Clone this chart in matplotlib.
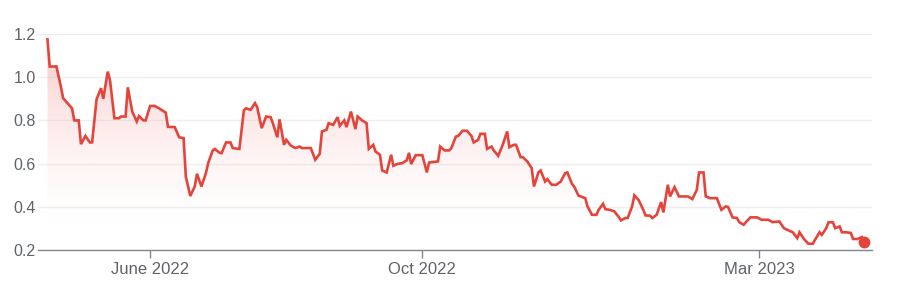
import matplotlib
matplotlib.use("Agg")
import matplotlib.pyplot as plt
import matplotlib.dates as mdates
import numpy as np
import pandas as pd
from matplotlib.colors import LinearSegmentedColormap

dates = [
    "2022-04-16", "2022-04-17", "2022-04-20", "2022-04-22", "2022-04-23", "2022-04-27",
    "2022-04-28", "2022-04-30", "2022-05-01", "2022-05-03", "2022-05-05", "2022-05-06",
    "2022-05-08", "2022-05-10", "2022-05-11", "2022-05-13", "2022-05-14", "2022-05-16",
    "2022-05-18", "2022-05-19", "2022-05-21", "2022-05-22", "2022-05-24", "2022-05-26",
    "2022-05-27", "2022-05-29", "2022-05-30", "2022-06-01", "2022-06-03", "2022-06-05",
    "2022-06-08", "2022-06-09", "2022-06-12", "2022-06-14", "2022-06-16", "2022-06-17",
    "2022-06-19", "2022-06-21", "2022-06-22", "2022-06-24", "2022-06-26", "2022-06-27",
    "2022-06-29", "2022-06-30", "2022-07-02", "2022-07-03", "2022-07-05", "2022-07-07",
    "2022-07-08", "2022-07-11", "2022-07-13", "2022-07-14", "2022-07-16", "2022-07-18",
    "2022-07-19", "2022-07-21", "2022-07-23", "2022-07-25", "2022-07-26", "2022-07-28",
    "2022-07-29", "2022-07-31", "2022-08-01", "2022-08-03", "2022-08-05", "2022-08-07",
    "2022-08-08", "2022-08-12", "2022-08-14", "2022-08-16", "2022-08-17", "2022-08-19",
    "2022-08-20", "2022-08-22", "2022-08-24", "2022-08-25", "2022-08-27", "2022-08-28",
    "2022-08-30", "2022-09-01", "2022-09-02", "2022-09-04", "2022-09-06", "2022-09-07",
    "2022-09-09", "2022-09-10", "2022-09-12", "2022-09-13", "2022-09-15", "2022-09-17",
    "2022-09-18", "2022-09-20", "2022-09-22", "2022-09-24", "2022-09-25", "2022-09-26",
    "2022-09-28", "2022-10-01", "2022-10-03", "2022-10-04", "2022-10-08", "2022-10-09",
    "2022-10-11", "2022-10-13", "2022-10-14", "2022-10-16", "2022-10-17", "2022-10-19",
    "2022-10-21", "2022-10-23", "2022-10-24", "2022-10-26", "2022-10-27", "2022-10-29",
    "2022-10-30", "2022-11-01", "2022-11-02", "2022-11-04", "2022-11-06", "2022-11-08",
    "2022-11-09", "2022-11-11", "2022-11-12", "2022-11-14", "2022-11-15", "2022-11-17",
    "2022-11-19", "2022-11-20", "2022-11-22", "2022-11-23", "2022-11-25", "2022-11-26",
    "2022-11-28", "2022-11-30", "2022-12-02", "2022-12-04", "2022-12-05", "2022-12-07",
    "2022-12-08", "2022-12-10", "2022-12-11", "2022-12-13", "2022-12-14", "2022-12-16",
    "2022-12-18", "2022-12-19", "2022-12-21", "2022-12-22", "2022-12-24", "2022-12-26",
    "2022-12-28", "2022-12-29", "2022-12-31", "2023-01-01", "2023-01-03", "2023-01-04",
    "2023-01-06", "2023-01-08", "2023-01-09", "2023-01-11", "2023-01-12", "2023-01-14",
    "2023-01-16", "2023-01-17", "2023-01-19", "2023-01-20", "2023-01-22", "2023-01-24",
    "2023-01-28", "2023-01-30", "2023-02-01", "2023-02-02", "2023-02-04", "2023-02-05",
    "2023-02-07", "2023-02-10", "2023-02-12", "2023-02-14", "2023-02-15", "2023-02-17",
    "2023-02-19", "2023-02-20", "2023-02-22", "2023-02-23", "2023-02-25", "2023-02-28",
    "2023-03-02", "2023-03-05", "2023-03-07", "2023-03-10", "2023-03-12", "2023-03-13",
    "2023-03-16", "2023-03-18", "2023-03-19", "2023-03-21", "2023-03-23", "2023-03-25",
    "2023-03-26", "2023-03-28", "2023-03-29", "2023-03-31", "2023-04-01", "2023-04-03",
    "2023-04-04", "2023-04-06", "2023-04-07", "2023-04-09", "2023-04-11", "2023-04-12",
    "2023-04-14", "2023-04-16", "2023-04-17",
]

prices = [
    1.175, 1.049, 1.05, 0.957, 0.903, 0.856,
    0.80, 0.80, 0.69, 0.728, 0.698, 0.698,
    0.898, 0.949, 0.90, 1.026, 0.987, 0.81,
    0.81, 0.818, 0.818, 0.953, 0.84, 0.795,
    0.82, 0.80, 0.80, 0.867, 0.867, 0.856,
    0.836, 0.77, 0.769, 0.722, 0.718, 0.54,
    0.45, 0.494, 0.553, 0.494, 0.556, 0.602,
    0.66, 0.668, 0.651, 0.648, 0.698, 0.698,
    0.672, 0.668, 0.846, 0.856, 0.849, 0.88,
    0.861, 0.764, 0.818, 0.815, 0.787, 0.722,
    0.805, 0.687, 0.71, 0.684, 0.672, 0.679,
    0.672, 0.672, 0.618, 0.645, 0.749, 0.756,
    0.787, 0.779, 0.815, 0.775, 0.80, 0.769,
    0.841, 0.76, 0.818, 0.80, 0.787, 0.668,
    0.687, 0.656, 0.641, 0.568, 0.559, 0.641,
    0.59, 0.599, 0.602, 0.615, 0.65, 0.598,
    0.639, 0.639, 0.559, 0.605, 0.61, 0.679,
    0.661, 0.661, 0.672, 0.725, 0.728, 0.752,
    0.752, 0.728, 0.698, 0.71, 0.738, 0.738,
    0.668, 0.679, 0.661, 0.636, 0.687, 0.749,
    0.676, 0.687, 0.687, 0.63, 0.63, 0.61,
    0.579, 0.494, 0.559, 0.568, 0.517, 0.528,
    0.502, 0.502, 0.517, 0.556, 0.559, 0.507,
    0.494, 0.451, 0.448, 0.44, 0.402, 0.363,
    0.363, 0.386, 0.414, 0.389, 0.386, 0.379,
    0.353, 0.337, 0.348, 0.348, 0.402, 0.453,
    0.43, 0.386, 0.36, 0.359, 0.348, 0.363,
    0.422, 0.374, 0.502, 0.448, 0.491, 0.448,
    0.448, 0.436, 0.479, 0.559, 0.559, 0.448,
    0.44, 0.44, 0.386, 0.402, 0.399, 0.351,
    0.348, 0.329, 0.317, 0.329, 0.351, 0.351,
    0.34, 0.34, 0.329, 0.332, 0.301, 0.296,
    0.282, 0.255, 0.282, 0.251, 0.229, 0.229,
    0.248, 0.282, 0.27, 0.301, 0.328, 0.328,
    0.301, 0.309, 0.282, 0.282, 0.279, 0.251,
    0.251, 0.26, 0.237,
]

y_ticks = [0.2, 0.4, 0.6, 0.8, 1.0, 1.2]
x_tick_dates = ["2022-06-01", "2022-10-01", "2023-03-01"]
x_tick_labels = ["June 2022", "Oct 2022", "Mar 2023"]

plt.rcParams['font.family'] = ['Liberation Sans', 'DejaVu Sans']

RED = "#e5443a"
GRAY = "#5f6368"

x = mdates.date2num(pd.to_datetime(dates))
y = np.array(prices)

fig = plt.figure(figsize=(9.04, 3.0), dpi=100)
ax = fig.add_axes([38 / 904, 1 - 250 / 300, (872 - 38) / 904, (250 - 34) / 300])

ax.set_xlim(mdates.date2num(pd.Timestamp("2022-04-11 18:00")),
            mdates.date2num(pd.Timestamp("2023-04-20 12:00")))
ax.set_ylim(0.2, 1.2)

# gradient fill under the line
poly = ax.fill_between(x, y, 0.2, color="none", lw=0)
path = poly.get_paths()[0]
cmap = LinearSegmentedColormap.from_list(
    "g", [(1.0, 0.85, 0.85, 0.0), (0.92, 0.30, 0.28, 0.30)])
vals = np.linspace(0.2, 1.2, 256).reshape(-1, 1)
grad = np.clip((vals - 0.3) / 0.9, 0, 1) ** 0.9
im = ax.imshow(grad, aspect="auto", cmap=cmap, origin="lower", vmin=0, vmax=1,
               extent=[x[0], x[-1], 0.2, 1.2], zorder=1, interpolation="bilinear")
im.set_clip_path(path, transform=ax.transData)

ax.plot(x, y, color=RED, lw=1.9, zorder=3, solid_joinstyle="miter")
ax.plot(x[-1], y[-1], "o", color=RED, ms=7.5, zorder=4, clip_on=False)

ax.set_yticks(y_ticks)
ax.set_yticklabels([f"{v:.1f}" for v in y_ticks])
ax.set_xticks(mdates.date2num(pd.to_datetime(x_tick_dates)))
ax.set_xticklabels(x_tick_labels)

ax.grid(axis="y", color="#eeeeee", lw=1)
ax.set_axisbelow(True)
for s in ["top", "right", "left"]:
    ax.spines[s].set_visible(False)
ax.spines["bottom"].set_color("#80868b")
ax.spines["bottom"].set_linewidth(1)
ax.spines["bottom"].set_zorder(5)

ax.tick_params(axis="y", length=0, pad=1.5, labelsize=11.5, labelcolor=GRAY)
ax.tick_params(axis="x", length=6, width=1, color="#80868b", pad=3,
               labelsize=12, labelcolor=GRAY)

fig.savefig("out.png", dpi=100)
